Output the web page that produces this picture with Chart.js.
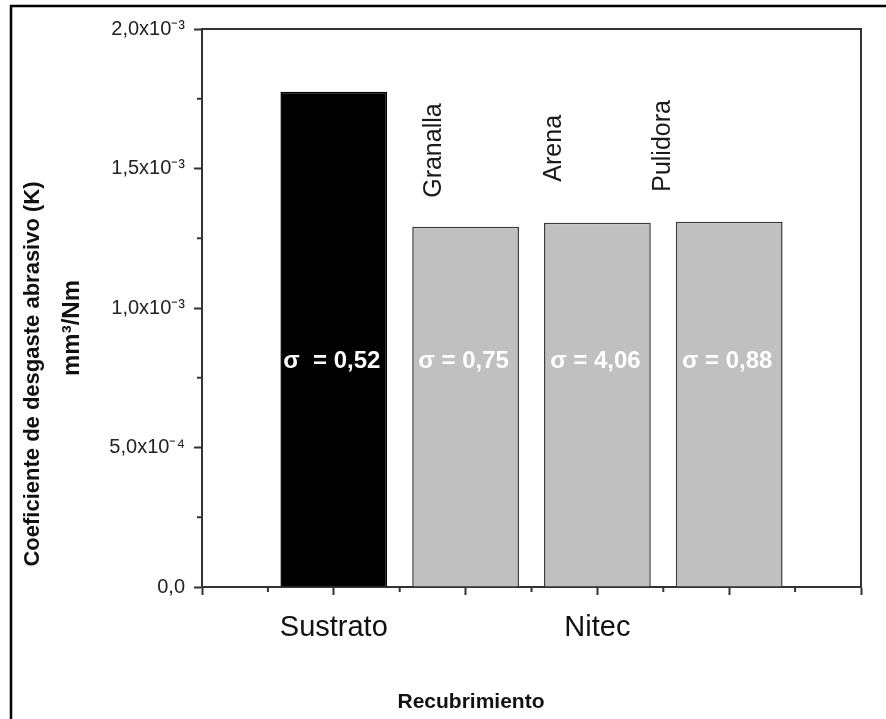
<!DOCTYPE html>
<html>
<head>
<meta charset="utf-8">
<script src="https://cdn.jsdelivr.net/npm/chart.js@4.4.1/dist/chart.umd.min.js"></script>
<style>
    html, body { margin: 0; padding: 0; background: #fff; }
</style>
</head>
<body>
<canvas id="grafic" width="886" height="719"></canvas>
<script>
// dades llegides del gràfic
const categories = ['Sustrato', 'Granalla', 'Arena', 'Pulidora'];
const posicions = [1, 2, 3, 4];
const coeficients = [1.775e-3, 1.291e-3, 1.306e-3, 1.309e-3];
const sigmes = ['σ  = 0,52', 'σ = 0,75', 'σ = 4,06', 'σ = 0,88'];
const colorsBarra = ['#000000', '#c0c0c0', '#c0c0c0', '#c0c0c0'];
const colorsVora = ['#000000', '#3a3a3a', '#3a3a3a', '#3a3a3a'];
const ticksX = [0, 1, 2, 3, 4, 5];
const etiquetesX = ['', 'Sustrato', '', 'Nitec', '', ''];
const ticksY = [0, 5e-4, 1e-3, 1.5e-3, 2e-3];
const etiquetesY = ['0,0', '5,0x10⁻⁴', '1,0x10⁻³', '1,5x10⁻³', '2,0x10⁻³'];
const sigmaY = 8.1e-4;

const FONT = "'Liberation Sans', Arial, sans-serif";
const AXIS = '#333333';

// textos lliures, marc, caixa i ticks menors
const extres = {
    id: 'extres',
    beforeDraw(chart) {
        const ctx = chart.ctx;
        ctx.save();
        ctx.fillStyle = '#ffffff';
        ctx.fillRect(0, 0, chart.width, chart.height);
        ctx.strokeStyle = '#000000';
        ctx.lineWidth = 2.5;
        ctx.strokeRect(11, 6, chart.width + 20, chart.height + 20);
        ctx.restore();
    },
    afterDraw(chart) {
        const ctx = chart.ctx;
        const area = chart.chartArea;
        const x = chart.scales.x;
        const y = chart.scales.y;
        const barres = chart.getDatasetMeta(0).data;

        ctx.save();
        // caixa
        ctx.strokeStyle = AXIS;
        ctx.lineWidth = 2;
        ctx.beginPath();
        ctx.moveTo(area.left, area.top);
        ctx.lineTo(area.right, area.top);
        ctx.lineTo(area.right, area.bottom);
        ctx.stroke();

        // ticks menors
        ctx.beginPath();
        for (let i = 0; i < ticksX.length - 1; i++) {
            const px = x.getPixelForValue((ticksX[i] + ticksX[i + 1]) / 2);
            ctx.moveTo(px, area.bottom);
            ctx.lineTo(px, area.bottom + 5);
        }
        for (let i = 0; i < ticksY.length - 1; i++) {
            const py = y.getPixelForValue((ticksY[i] + ticksY[i + 1]) / 2);
            ctx.moveTo(area.left, py);
            ctx.lineTo(area.left - 5, py);
        }
        ctx.stroke();

        // sigma dins de cada barra
        ctx.fillStyle = '#ffffff';
        ctx.font = 'bold 24px ' + FONT;
        ctx.textAlign = 'center';
        ctx.textBaseline = 'middle';
        barres.forEach((b, i) => {
            ctx.fillText(sigmes[i], b.x - 2, y.getPixelForValue(sigmaY));
        });

        // noms girats sobre les barres de Nitec
        const desplaca = [null, [-31, -29], [-43, -41], [-66, -30]];
        ctx.fillStyle = '#1a1a1a';
        ctx.font = '25px ' + FONT;
        ctx.textAlign = 'left';
        barres.forEach((b, i) => {
            if (!desplaca[i]) return;
            ctx.save();
            ctx.translate(b.x + desplaca[i][0], b.y + desplaca[i][1]);
            ctx.rotate(-Math.PI / 2);
            ctx.fillText(categories[i], 0, 0);
            ctx.restore();
        });

        // títols dels eixos
        ctx.fillStyle = '#111111';
        ctx.textAlign = 'center';
        ctx.font = 'bold 21px ' + FONT;
        ctx.textBaseline = 'alphabetic';
        ctx.fillText('Recubrimiento', 471, 708);

        ctx.textBaseline = 'middle';
        ctx.font = 'bold 22px ' + FONT;
        ctx.save();
        ctx.translate(33, 374);
        ctx.rotate(-Math.PI / 2);
        ctx.fillText('Coeficiente de desgaste abrasivo (K)', 0, 0);
        ctx.restore();
        ctx.font = 'bold 24px ' + FONT;
        ctx.save();
        ctx.translate(72, 328);
        ctx.rotate(-Math.PI / 2);
        ctx.fillText('mm³/Nm', 0, 0);
        ctx.restore();
        ctx.restore();
    }
};

const grafic = new Chart(document.getElementById('grafic'), {
    type: 'bar',
    data: {
        datasets: [{
            label: 'K',
            data: posicions.map((p, i) => ({ x: p, y: coeficients[i] })),
            backgroundColor: colorsBarra,
            borderColor: colorsVora,
            borderWidth: 1.5,
            barPercentage: 0.81,
            categoryPercentage: 1
        }]
    },
    options: {
        responsive: false,
        animation: false,
        devicePixelRatio: 1,
        layout: { padding: { left: 12, top: 29, right: 25, bottom: 0 } },
        plugins: {
            legend: { display: false },
            tooltip: { enabled: false }
        },
        scales: {
            x: {
                type: 'linear',
                min: 0,
                max: 5,
                offset: false,
                afterBuildTicks: (s) => { s.ticks = ticksX.map(v => ({ value: v })); },
                afterFit: (s) => { s.height = 132; },
                ticks: {
                    autoSkip: false,
                    maxRotation: 0,
                    padding: 16,
                    color: '#111111',
                    font: { family: FONT, size: 29 },
                    callback: (v, i) => etiquetesX[i]
                },
                grid: { drawOnChartArea: false, offset: false, tickLength: 8, tickColor: AXIS, tickWidth: 2 },
                border: { color: AXIS, width: 2 }
            },
            y: {
                min: 0,
                max: 2e-3,
                afterBuildTicks: (s) => { s.ticks = ticksY.map(v => ({ value: v })); },
                afterFit: (s) => { s.width = 190; },
                ticks: {
                    padding: 9,
                    color: '#222222',
                    font: { family: FONT, size: 20 },
                    callback: (v, i) => etiquetesY[i]
                },
                grid: { drawOnChartArea: false, tickLength: 8, tickColor: AXIS, tickWidth: 2 },
                border: { color: AXIS, width: 2 }
            }
        }
    },
    plugins: [extres]
});
</script>
</body>
</html>
